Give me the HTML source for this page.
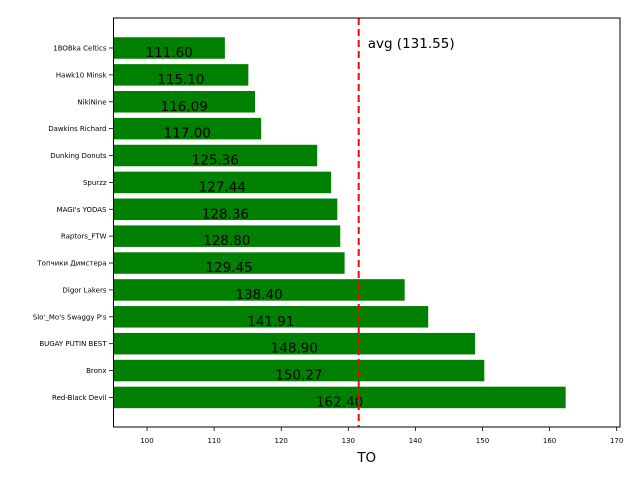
<!DOCTYPE html>
<html><head><meta charset="utf-8"><style>
body{margin:0;background:#fff}
svg{display:block;font-family:"DejaVu Sans","Liberation Sans",sans-serif}
</style></head><body>
<svg width="640" height="480" viewBox="0 0 640 480">
<g id="plot"></g>
</svg>
<script>
const teams=["1BOBka Celtics","Hawk10 Minsk","NikiNine","Dawkins Richard","Dunking Donuts","Spurzz","MAGI's YODAS","Raptors_FTW","Топчики Димстера","Digor Lakers","Slo'_Mo's Swaggy P's","BUGAY PUTIN BEST","Bronx","Red-Black Devil"];
const values=[111.60,115.10,116.09,117.00,125.36,127.44,128.36,128.80,129.45,138.40,141.91,148.90,150.27,162.40];
const xTicks=[100,110,120,130,140,150,160,170];
const avgValue=131.55;
const NS="http://www.w3.org/2000/svg";
const L=113.5,R=620,T=18,B=427,xmin=95,xmax=170.5;
const x=v=>L+(v-xmin)*(R-L)/(xmax-xmin);
const step=26.88,y0=48;
const y=i=>y0+i*step;
const g=document.getElementById('plot');
function mk(tag,attrs,txt){const e=document.createElementNS(NS,tag);for(const k in attrs)e.setAttribute(k,attrs[k]);if(txt!==undefined)e.textContent=txt;g.appendChild(e);return e;}
values.forEach((v,i)=>{
  const r=mk('rect',{x:L,y:y(i)-10.75,width:x(v)-L,height:21.5,fill:'#008000'});
  
  
  const t=mk('text',{x:(L+x(v))/2,y:y(i)+9,'font-size':13.5,'text-anchor':'middle',fill:'#000'},v.toFixed(2));
  
  
  mk('line',{x1:L-4.5,x2:L,y1:y(i),y2:y(i),stroke:'#000','stroke-width':0.8});
  const yl=mk('text',{x:L-7,y:y(i)+2.5,'font-size':7,'text-anchor':'end',fill:'#000'},teams[i]);
  
  
});
xTicks.forEach(v=>{
  mk('line',{x1:x(v),x2:x(v),y1:B,y2:B+4,stroke:'#000','stroke-width':0.8});
  const t=mk('text',{x:x(v),y:B+16,'font-size':7,'text-anchor':'middle',fill:'#000'},v);
  
  
});
const al=mk('line',{x1:x(avgValue),x2:x(avgValue),y1:T,y2:B,stroke:'#ff0000','stroke-width':2,'stroke-dasharray':'7,4'});


const at=mk('text',{x:x(avgValue)+9,y:48,'font-size':13.5,fill:'#000'},'avg ('+avgValue.toFixed(2)+')');


const fr=mk('rect',{x:L,y:T,width:R-L,height:B-T,fill:'none',stroke:'#000','stroke-width':1});


const xt=mk('text',{x:(L+R)/2,y:462,'font-size':13.5,'text-anchor':'middle',fill:'#000'},'TO');


</script>
</body></html>
